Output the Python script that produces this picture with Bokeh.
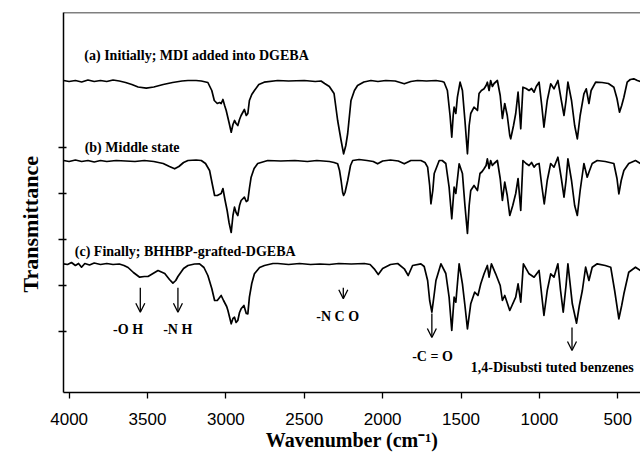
from bokeh.plotting import figure
from bokeh.models import Range1d, FixedTicker, Span, Title, Arrow, OpenHead, ColumnDataSource
from bokeh.core.properties import value
from bokeh.embed import file_html
from bokeh.resources import INLINE

# ---- data (wavenumber cm^-1, transmittance in arbitrary offset units) ----
wn_a = [4036, 4000, 3960, 3920, 3880, 3840, 3800, 3760, 3720, 3680, 3640, 3600, 3560, 3508, 3460, 3400, 3340, 3280,
        3242, 3190, 3157, 3115, 3090, 3074, 3055, 3040, 3030, 3019, 3008, 2998, 2980, 2966, 2955, 2945, 2935, 2924,
        2913, 2903, 2882, 2870, 2860, 2850, 2835, 2818, 2790, 2756, 2669, 2600, 2500, 2430, 2393, 2370, 2340, 2310,
        2287, 2265, 2249, 2235, 2223, 2202, 2180, 2160, 2120, 2075, 2030, 1980, 1920, 1862, 1820, 1777, 1720, 1660,
        1620, 1608, 1587, 1570, 1559, 1550, 1544, 1533, 1523, 1506, 1491, 1475, 1459, 1448, 1438, 1417, 1395, 1385,
        1370, 1353, 1340, 1332, 1321, 1311, 1300, 1289, 1268, 1250, 1236, 1221, 1205, 1189, 1183, 1165, 1151, 1136,
        1127, 1119, 1105, 1085, 1066, 1050, 1034, 1020, 1002, 985, 971, 950, 928, 907, 882, 860, 843, 830, 818, 795,
        775, 758, 740, 716, 701, 684, 670, 641, 600, 560, 525, 505, 489, 475, 461, 440, 420, 398, 375, 355]
t_a = [312, 311, 312, 310.5, 312.5, 311, 312, 311, 312.5, 311.5, 310, 308, 305.5, 304.3, 305.5, 308, 310, 311.5,
       312, 312, 311.5, 310, 302, 292, 289, 290, 289, 293, 287, 282, 270, 260.3, 268, 272, 269, 267,
       273, 277, 283, 277, 279, 292, 298, 302, 308, 310.3, 312, 311.5, 312, 311, 311.5, 309, 306, 299,
       272, 252, 238.7, 247, 259, 292, 302, 307, 310.5, 312, 311, 312, 311.5, 308.7, 311, 312, 311.5, 312,
       311, 310.3, 302, 277, 255.3, 277, 285.3, 279, 295.3, 310.3, 302, 272, 238.7, 267, 279, 285.3, 282, 299,
       302, 303.7, 307, 310.3, 302, 312, 306, 309, 312, 297, 274, 289, 277, 257, 253.7, 267, 279, 300.3,
       282, 263.7, 305.3, 304, 302, 304, 300.3, 306, 310.3, 287, 265.3, 292, 308.7, 303.7, 312, 292, 277, 292, 310.3, 292,
       267, 253.7, 277, 298.7, 303.7, 289, 302, 310.3, 310, 309, 305.3, 294, 280.3, 287, 295.3, 310.3, 313, 313.7, 312, 311]

wn_b = [4036, 4000, 3960, 3920, 3880, 3840, 3800, 3760, 3700, 3640, 3580, 3520, 3460, 3400, 3360, 3327, 3300, 3270,
        3242, 3190, 3157, 3130, 3104, 3085, 3072, 3055, 3030, 3019, 3005, 2992, 2980, 2966, 2955, 2945, 2935, 2924,
        2913, 2903, 2882, 2870, 2860, 2850, 2839, 2820, 2797, 2733, 2650, 2560, 2480, 2420, 2380, 2340, 2310, 2287,
        2275, 2265, 2255, 2249, 2240, 2223, 2205, 2191, 2150, 2100, 2060, 2032, 2000, 1950, 1900, 1862, 1820, 1756,
        1730, 1713, 1700, 1692, 1680, 1671, 1639, 1620, 1597, 1576, 1559, 1544, 1533, 1512, 1491, 1475, 1459, 1448,
        1438, 1417, 1395, 1379, 1365, 1353, 1340, 1332, 1321, 1311, 1300, 1289, 1268, 1250, 1236, 1221, 1205, 1189,
        1170, 1151, 1136, 1127, 1119, 1105, 1085, 1066, 1050, 1034, 1020, 1002, 985, 969, 950, 928, 907, 882, 860,
        843, 830, 818, 795, 775, 758, 740, 716, 695, 680, 663, 631, 580, 525, 505, 493, 478, 461, 430, 387, 355]
t_b = [232, 231, 232.5, 231, 232, 230.5, 232, 231, 232, 231.5, 231, 232, 231, 229, 226, 223.7, 226, 230,
       232, 232.5, 232, 229, 222, 207, 197, 197, 199, 204, 192, 182, 170, 160, 177, 185.3, 180, 177,
       187, 192, 195.3, 191, 192, 204, 215.3, 224, 229, 232, 231.5, 232, 231, 232, 231.5, 231, 230, 228.7,
       222, 212, 200, 197, 200, 212, 227, 232, 233, 232, 231, 228.7, 231.5, 232.5, 231.5, 228.7, 232, 232,
       230, 225.3, 207, 188.7, 202, 219, 232, 232, 229, 205.3, 173.7, 205.3, 199, 228.7, 219, 187, 159, 187,
       202, 207, 202, 219, 221, 223.7, 227, 233.7, 224, 232, 227, 229, 232, 214, 192, 210.3, 197, 177,
       187, 199, 214, 197, 182, 232, 229, 227, 230, 225.3, 228, 229, 207, 188.7, 212, 229, 225.3, 235.3, 214,
       195.3, 212, 233.7, 212, 187, 177, 202, 229, 215.3, 222, 229, 232, 231, 229, 214, 198.7, 212, 222, 229, 232, 229]

wn_c = [4036, 4010, 3985, 3960, 3940, 3921, 3900, 3870, 3840, 3800, 3760, 3720, 3680, 3650, 3624, 3590, 3550, 3520,
        3497, 3465, 3433, 3390, 3360, 3338, 3320, 3306, 3270, 3242, 3200, 3168, 3140, 3115, 3090, 3072, 3055, 3030,
        3015, 2995, 2987, 2966, 2955, 2945, 2935, 2924, 2913, 2903, 2885, 2870, 2860, 2850, 2835, 2818, 2785, 2754,
        2700, 2669, 2600, 2530, 2460, 2400, 2340, 2280, 2200, 2117, 2080, 2054, 2028, 2000, 1950, 1904, 1862, 1837,
        1809, 1756, 1735, 1713, 1700, 1686, 1672, 1660, 1628, 1597, 1576, 1559, 1544, 1533, 1512, 1491, 1475, 1459,
        1438, 1413, 1392, 1374, 1353, 1332, 1321, 1306, 1279, 1250, 1236, 1221, 1189, 1151, 1136, 1119, 1102, 1066,
        1034, 1002, 985, 971, 950, 928, 907, 882, 865, 848, 830, 818, 790, 763, 745, 726, 705, 684, 663, 631, 580,
        545, 520, 493, 475, 461, 430, 387, 355]
t_c = [128.7, 128, 130, 127, 129, 125.3, 129, 127.5, 129.5, 128, 129, 128, 128.5, 127, 125, 120, 115.3, 116,
       116, 119, 122, 119, 113, 109.3, 112, 116, 124, 127, 128.5, 128.7, 125, 117, 104, 92, 92, 97,
       92, 86, 82, 68.7, 74, 75.3, 70, 72, 80, 83.7, 87, 79, 78.7, 95.3, 109, 118.7, 125, 127,
       129, 129, 128, 129, 128, 128.5, 128, 129, 128.5, 129, 128, 123.7, 118, 124, 128, 129, 123.7, 117,
       127, 128.7, 126, 112, 92, 80.3, 97, 112, 128.7, 119, 95.3, 62, 95.3, 90.3, 128.7, 108.7, 87, 63.7,
       88.7, 100.3, 97, 108.7, 118.7, 127, 115.3, 128.7, 118.7, 107, 92, 97, 82, 95.3, 108.7, 90.3, 128.7, 118.7,
       115.3, 122, 97, 77, 102, 118.7, 115.3, 128.7, 102, 80.3, 107, 128.7, 88.7, 69.3, 87, 102, 125.3, 112, 125.3, 128.7, 127,
       125.3, 102, 73.7, 87, 98.7, 120.3, 125.3, 122]

x_ticks = [4000, 3500, 3000, 2500, 2000, 1500, 1000, 500]
y_ticks = [61, 107, 153, 199, 245]

# spectrum labels
lab_text = ["(a) Initially; MDI added into DGEBA", "(b) Middle state", "(c) Finally; BHHBP-grafted-DGEBA"]
lab_wn = [3903, 3901, 3964]
lab_y = [337, 245.3, 141.3]

# band annotations
band_text = ["-O H", "-N H", "-N C O", "-C = O", "1,4-Disubsti tuted benzenes"]
band_wn = [3624, 3307, 2287, 1682, 1438]
band_y = [63, 63, 76, 36.3, 24.7]
band_align = ["center", "center", "center", "center", "left"]

arrow_wn = [3546, 3306, 2251, 1686, 792]
arrow_top = [104.7, 104.7, 104.7, 79, 65]
arrow_bot = [80.3, 80.3, 93.7, 55, 42]

SERIF = "Liberation Serif"
SANS = "Liberation Sans"

p = figure(width=640, height=454, output_backend="svg", toolbar_location=None,
           x_range=Range1d(4036, 355), y_range=Range1d(0, 380),
           min_border_left=62, min_border_right=0, min_border_top=12, min_border_bottom=62)
p.outline_line_color = None
p.grid.visible = False
p.background_fill_color = "white"
p.border_fill_color = "white"

for wn, t in [(wn_a, t_a), (wn_b, t_b), (wn_c, t_c)]:
    p.line(wn, t, line_color="black", line_width=1.7, line_join="round")

p.text(x=lab_wn, y=lab_y, text=lab_text, text_font=value(SERIF), text_font_style="bold",
       text_font_size="14px", text_align="left", text_baseline="middle", text_color="black")

src = ColumnDataSource(dict(x=band_wn, y=band_y, text=band_text, align=band_align))
p.text(x="x", y="y", text="text", source=src, text_font=value(SERIF), text_font_style="bold",
       text_font_size="14px", text_align="align", text_baseline="middle", text_color="black")

for xw, yt, yb in zip(arrow_wn, arrow_top, arrow_bot):
    p.add_layout(Arrow(end=OpenHead(size=9, line_width=1.3, line_color="black"),
                       x_start=xw, y_start=yt, x_end=xw, y_end=yb,
                       line_width=1.3, line_color="black"))

# top border line
p.add_layout(Span(location=380, dimension="width", line_color="black", line_width=1.5))

xa = p.xaxis[0]
xa.ticker = FixedTicker(ticks=x_ticks)
xa.axis_line_width = 1.5
xa.major_tick_line_width = 1.3
xa.major_tick_out = 6
xa.major_tick_in = 0
xa.minor_tick_line_color = None
xa.major_label_text_font = SANS
xa.major_label_text_font_size = "17px"
xa.major_label_text_color = "black"
xa.major_label_standoff = 14
xa.axis_label = "Wavenumber (cm\u207b\u00b9)"
xa.axis_label_text_font = SERIF
xa.axis_label_text_font_style = "bold"
xa.axis_label_text_font_size = "20px"
xa.axis_label_text_color = "black"
xa.axis_label_standoff = 1

ya = p.yaxis[0]
ya.ticker = FixedTicker(ticks=y_ticks)
ya.axis_line_width = 1.5
ya.major_tick_line_width = 1.3
ya.major_tick_out = 5
ya.major_tick_in = 3
ya.minor_tick_line_color = None
ya.major_label_overrides = {t: "" for t in y_ticks}
ya.major_label_standoff = 0

p.add_layout(Title(text="Transmittance", align="left", offset=100, standoff=31,
                   text_font=SERIF, text_font_style="bold", text_font_size="22px",
                   text_color="black"), "left")

open("out.html", "w").write(file_html(p, INLINE))
